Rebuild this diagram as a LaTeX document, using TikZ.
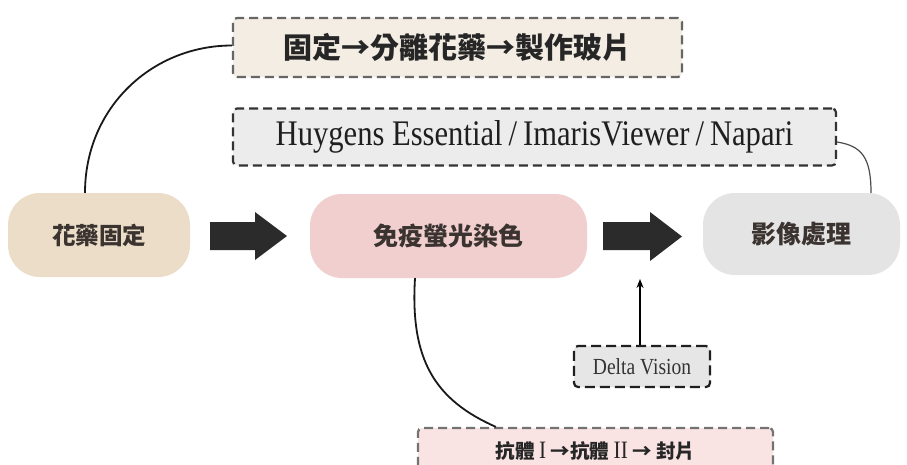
\documentclass[tikz,border=0pt]{standalone}
\usepackage{fontspec}
\setmainfont{Liberation Serif}[FakeStretch=0.85]
\newfontfamily\cjk{Noto Sans CJK TC}
\usetikzlibrary{arrows.meta}

\definecolor{inktext}{HTML}{3A3330}
\definecolor{fixfill}{HTML}{ECDDC9}
\definecolor{stainfill}{HTML}{F2CFCF}
\definecolor{imgfill}{HTML}{E4E4E4}
\definecolor{prepfill}{HTML}{F4EDE3}
\definecolor{softfill}{HTML}{ECECEC}
\definecolor{dvfill}{HTML}{E6E6E6}
\definecolor{abfill}{HTML}{F9E3E3}
\definecolor{arrowfill}{HTML}{2B2B2B}

\tikzset{
  stage/.style={rounded corners=32pt, inner sep=0pt, text=inktext,
    font=\cjk\bfseries\fontsize{25}{30}\selectfont},
  note/.style={draw, dash pattern=on 9pt off 5pt, line width=2.2pt,
    rounded corners=4pt, inner sep=0pt},
  blockarrow/.style={fill=arrowfill, draw=none},
  link/.style={line width=1.8pt, draw=black!90},
}

\begin{document}
\begin{tikzpicture}[x=1pt, y=-1pt]
\clip (0,0) rectangle (907,464);
\fill[white] (0,0) rectangle (907,464);

% main stages
\node[stage, fill=fixfill, minimum width=182pt, minimum height=84pt,
      font=\cjk\bfseries\fontsize{23.5}{28}\selectfont] (fix) at (99,235) {花藥固定};
\node[stage, fill=stainfill, minimum width=277pt, minimum height=84pt] (stain) at (448.5,236) {免疫螢光染色};
\node[stage, fill=imgfill, minimum width=197pt, minimum height=82pt] (img) at (801.5,234) {影像處理};

% dashed notes
\node[note, draw=black!60, fill=prepfill, minimum width=449pt, minimum height=59pt,
      text=black!85, font=\cjk\bfseries\fontsize{29}{34}\selectfont] (prep) at (457.5,47.5) {固定→分離花藥→製作玻片};
\node[note, draw=black!80, fill=softfill, minimum width=603pt, minimum height=57pt,
      text=black!88, font=\fontsize{36}{40}\selectfont] (soft) at (534.5,137) {Huygens Essential\,/\,ImarisViewer\,/\,Napari};
\node[note, draw=black!88, fill=dvfill, minimum width=136pt, minimum height=41pt,
      dash pattern=on 10pt off 5pt, text=black!80, font=\fontsize{23}{28}\selectfont] (dv) at (642,366.5) {Delta Vision};
\node[note, draw=black!55, fill=abfill, minimum width=355pt, minimum height=46pt,
      text=black!85, font=\cjk\bfseries\fontsize{19.5}{24}\selectfont] (ab) at (595.5,451)
      {抗體 {\rmfamily\mdseries\fontsize{25}{28}\selectfont I} →抗體 {\rmfamily\mdseries\fontsize{25}{28}\selectfont II} → 封片};

% block arrows between stages
\fill[blockarrow] (210,222) -- (255,222) -- (255,212) -- (287,236) -- (255,260) -- (255,250) -- (210,250) -- cycle;
\fill[blockarrow] (603,222) -- (650,222) -- (650,212) -- (682,236.5) -- (650,261) -- (650,250) -- (603,250) -- cycle;

% connectors
\draw[link] ([xshift=-14pt]fix.north) .. controls +(0,-85) and +(-80,0) .. ([yshift=2pt]prep.west);
\draw[line width=1.2pt, draw=black!70] ([yshift=-5pt]soft.east) .. controls +(25,4) and +(0,-35) .. ([xshift=69.5pt]img.north);
\draw[link] ([xshift=-33.5pt]stain.south) .. controls (410,360) and (435,400) .. ([xshift=79pt]ab.north west);
\coordinate (dvtip) at (640,279);
\draw[line width=1.6pt, -{Stealth[length=9pt,width=7pt]}] ([xshift=-2pt]dv.north) -- (dvtip);
\end{tikzpicture}
\end{document}
